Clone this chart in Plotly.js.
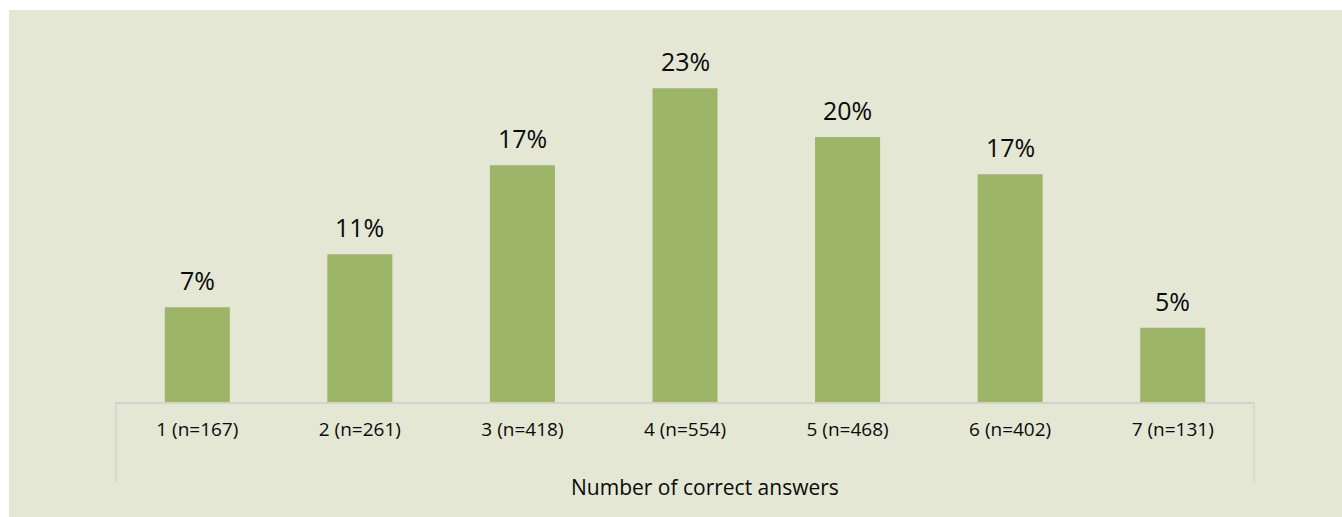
<!DOCTYPE html>
<html>
<head>
<meta charset="utf-8">
<script src="https://cdn.plot.ly/plotly-3.0.1.min.js"></script>
<style>
html,body{margin:0;padding:0;background:#ffffff;}
#chart{position:absolute;left:9px;top:10px;width:1333px;height:507px;}
</style>
</head>
<body>
<div id="chart"></div>
<script>
const categories = ["1 (n=167)", "2 (n=261)", "3 (n=418)", "4 (n=554)", "5 (n=468)", "6 (n=402)", "7 (n=131)"];
const percentValues = [6.96, 10.87, 17.41, 23.07, 19.49, 16.74, 5.46];
const valueLabels = ["7%", "11%", "17%", "23%", "20%", "17%", "5%"];
const axisTitle = "Number of correct answers";

const FONT = "Open Sans, Noto Sans, sans-serif";
const BG = "#E3E7D4";
const BAR = "#9CB567";
const LINE = "#D2D3D0";

const trace = {
  type: "bar",
  x: categories,
  y: percentValues,
  marker: {color: BAR, line: {width: 0}},
  width: 0.4,
  hoverinfo: "skip"
};

const annotations = categories.map((c, i) => ({
  x: c, y: percentValues[i], xref: "x", yref: "y",
  text: valueLabels[i], showarrow: false,
  yanchor: "bottom", yshift: 8,
  font: {family: FONT, size: 25, color: "#0a0a0a"}
}));

annotations.push({
  xref: "x domain", yref: "y domain", x: 0.5176, y: -0.25,
  xanchor: "center", yanchor: "middle", showarrow: false,
  text: axisTitle,
  font: {family: FONT, size: 21, color: "#0a0a0a"}
});

const layout = {
  width: 1333, height: 507,
  paper_bgcolor: BG, plot_bgcolor: BG,
  margin: {l: 107, r: 88, t: 51.5, b: 115},
  showlegend: false,
  bargap: 0.6,
  xaxis: {
    type: "category",
    showline: true, linecolor: LINE, linewidth: 1.5,
    showgrid: false, zeroline: false,
    ticks: "outside", ticklen: 10, tickcolor: "rgba(0,0,0,0)",
    tickfont: {family: FONT, size: 19, color: "#0a0a0a"},
    fixedrange: true
  },
  yaxis: {
    range: [0, 25], visible: false, showgrid: false, zeroline: false, fixedrange: true
  },
  annotations: annotations,
  shapes: [
    {type: "line", xref: "x domain", yref: "y domain", x0: 0, x1: 0, y0: 0, y1: -0.235, line: {color: LINE, width: 1.5}},
    {type: "line", xref: "x domain", yref: "y domain", x0: 1, x1: 1, y0: 0, y1: -0.235, line: {color: LINE, width: 1.5}}
  ]
};

Plotly.newPlot("chart", [trace], layout, {displayModeBar: false, staticPlot: true});
</script>
</body>
</html>
